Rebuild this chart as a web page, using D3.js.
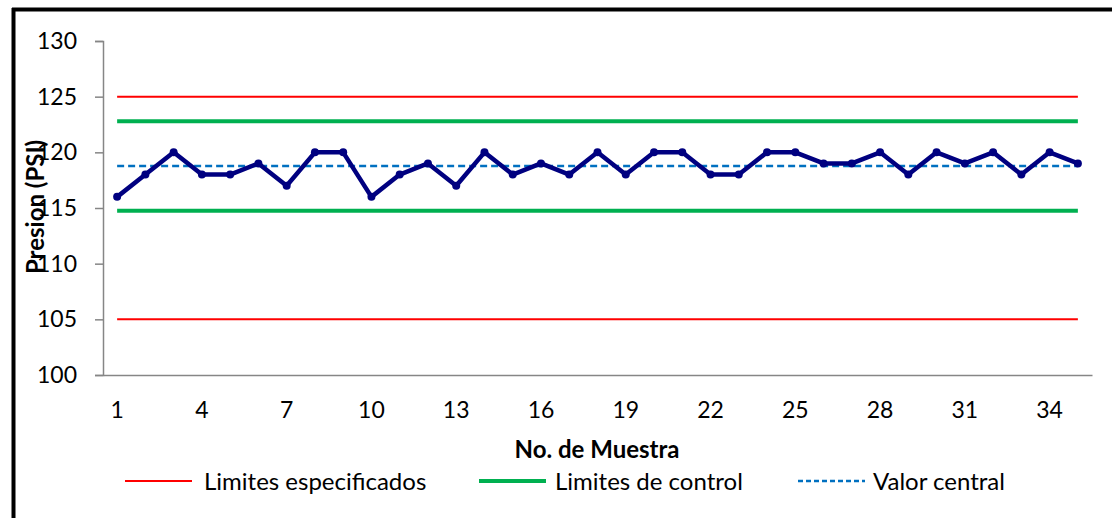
<!DOCTYPE html>
<html>
<head>
<meta charset="utf-8">
<script src="https://cdn.jsdelivr.net/npm/d3@7"></script>
<style>
  html, body { margin: 0; padding: 0; background: #fff; }
  svg { display: block; font-family: Lato, "Open Sans", sans-serif; }
</style>
</head>
<body>
<svg id="chart" width="1112" height="518"></svg>
<script>
// Pressure control chart: 35 samples with specification and control limits
const samples = d3.range(1, 36);
const pressure = [116, 118, 120, 118, 118, 119, 117, 120, 120, 116,
                  118, 119, 117, 120, 118, 119, 118, 120, 118, 120,
                  120, 118, 118, 120, 120, 119, 119, 120, 118, 120,
                  119, 120, 118, 120, 119];
const specLimits = [125, 105];
const controlLimits = [122.79, 114.75];
const centralValue = 118.77;
const yTicks = [100, 105, 110, 115, 120, 125, 130];
const xTickLabels = [1, 4, 7, 10, 13, 16, 19, 22, 25, 28, 31, 34];
const legendLabels = ["Limites especificados", "Limites de control", "Valor central"];

const svg = d3.select("#chart");
const labelSize = 23;
const legendSize = 24;
const titleSize = 24;

// outer frame (top and left edges visible)
svg.append("line").attr("x1", 12).attr("x2", 1112).attr("y1", 9.5).attr("y2", 9.5)
  .attr("stroke", "#000").attr("stroke-width", 4);
svg.append("line").attr("x1", 13.5).attr("x2", 13.5).attr("y1", 8).attr("y2", 518)
  .attr("stroke", "#000").attr("stroke-width", 4);

const plot = { left: 103, right: 1092, top: 41, bottom: 375 };

const x = d3.scaleBand().domain(samples).range([plot.left, plot.right]);
const cx = d => x(d) + x.bandwidth() / 2;
const y = d3.scaleLinear().domain([100, 130]).range([plot.bottom, plot.top]);

// y axis
const yAxis = svg.append("g").attr("transform", `translate(${plot.left},0)`)
  .call(d3.axisLeft(y).tickValues(yTicks).tickSize(8).tickPadding(18));
yAxis.select(".domain").attr("stroke", "#868686").attr("stroke-width", 1.5);
yAxis.selectAll(".tick line").attr("stroke", "#868686").attr("stroke-width", 1.5);
yAxis.selectAll(".tick text").attr("font-size", labelSize).attr("fill", "#000")
  .attr("font-family", "Lato, sans-serif");

// x axis
const xAxis = svg.append("g").attr("transform", `translate(0,${plot.bottom})`)
  .call(d3.axisBottom(x).tickValues(xTickLabels).tickSize(0).tickPadding(27));
xAxis.select(".domain").attr("stroke", "#868686").attr("stroke-width", 1.5);
xAxis.selectAll(".tick text").attr("font-size", labelSize).attr("fill", "#000")
  .attr("font-family", "Lato, sans-serif");

// horizontal reference lines spanning first to last sample
const first = samples[0], last = samples[samples.length - 1];
const hline = (v, color, width, dash) => svg.append("line")
  .attr("x1", cx(first)).attr("x2", cx(last))
  .attr("y1", y(v)).attr("y2", y(v))
  .attr("stroke", color).attr("stroke-width", width)
  .attr("stroke-dasharray", dash || null);

specLimits.forEach(v => hline(v, "#FF0000", 2));
controlLimits.forEach(v => hline(v, "#00B050", 4));
hline(centralValue, "#0070C0", 2.5, "7,4");

// sample series
const line = d3.line().x((d, i) => cx(samples[i])).y(d => y(d));
svg.append("path").datum(pressure)
  .attr("d", line).attr("fill", "none")
  .attr("stroke", "#000080").attr("stroke-width", 4.5)
  .attr("stroke-linejoin", "round");
svg.append("g").selectAll("circle").data(pressure).join("circle")
  .attr("cx", (d, i) => cx(samples[i])).attr("cy", d => y(d))
  .attr("r", 4).attr("fill", "#000080");

// axis titles
svg.append("text").attr("x", 597).attr("y", 458)
  .attr("text-anchor", "middle").attr("font-size", titleSize).attr("font-weight", "bold")
  .text("No. de Muestra");
svg.append("text").attr("transform", "translate(44,207) rotate(-90)")
  .attr("text-anchor", "middle").attr("font-size", titleSize).attr("font-weight", "bold")
  .text("Presion (PSI)");

// legend
const legendItems = [
  { label: legendLabels[0], color: "#FF0000", width: 2, dash: null, x0: 125, tx: 79 },
  { label: legendLabels[1], color: "#00B050", width: 4, dash: null, x0: 479, tx: 76 },
  { label: legendLabels[2], color: "#0070C0", width: 2.5, dash: "5,3", x0: 798, tx: 75 }
];
const lg = svg.append("g").selectAll("g").data(legendItems).join("g")
  .attr("transform", d => `translate(${d.x0},481)`);
lg.append("line").attr("x1", 0).attr("x2", 67).attr("y1", 0).attr("y2", 0)
  .attr("stroke", d => d.color).attr("stroke-width", d => d.width)
  .attr("stroke-dasharray", d => d.dash);
lg.append("text").attr("x", d => d.tx).attr("y", 9).attr("font-size", legendSize)
  .text(d => d.label);
</script>
</body>
</html>
